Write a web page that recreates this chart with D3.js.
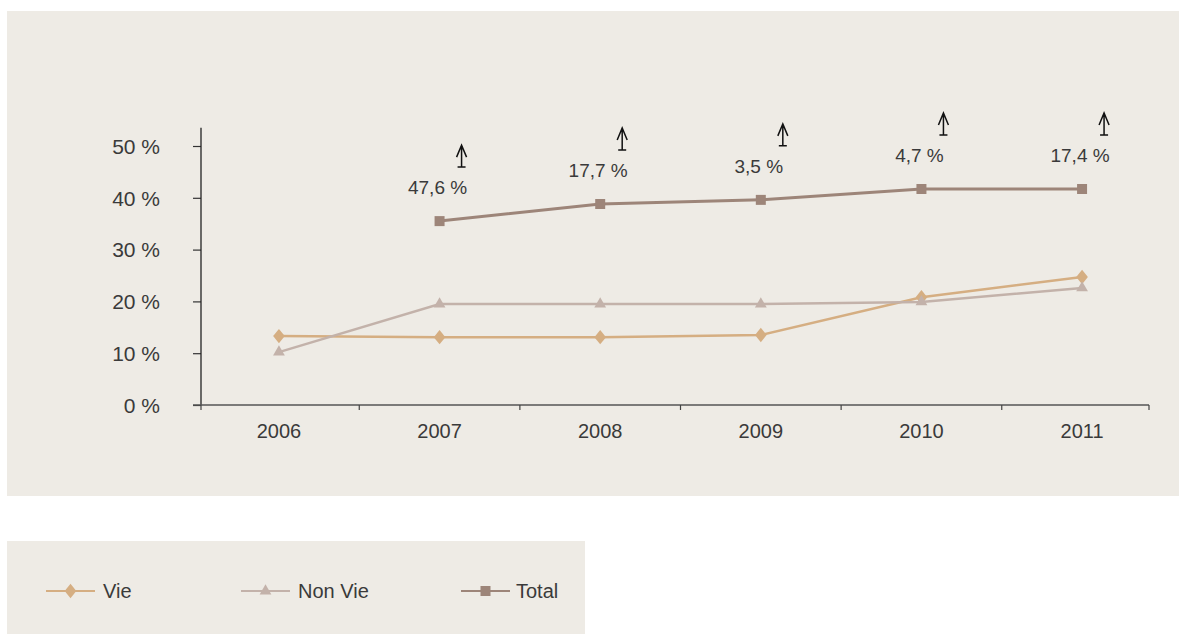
<!DOCTYPE html>
<html><head><meta charset="utf-8">
<script src="https://cdn.jsdelivr.net/npm/d3@7"></script>
<style>
html,body{margin:0;padding:0;background:#fff;}
svg text{font-family:"Liberation Sans Narrow","Liberation Sans",sans-serif;fill:#3a3a3a;}
</style></head>
<body>
<svg id="c" width="1180" height="634"></svg>
<script>
const years = ["2006","2007","2008","2009","2010","2011"];
const vie = [13.3, 13.1, 13.1, 13.5, 20.8, 24.7];
const nonVie = [10.2, 19.5, 19.5, 19.5, 19.9, 22.6];
const total = [null, 35.5, 38.8, 39.6, 41.7, 41.7];
const growthLabels = [null, "47,6 %", "17,7 %", "3,5 %", "4,7 %", "17,4 %"];
const yTicks = [0, 10, 20, 30, 40, 50];
const seriesNames = ["Vie", "Non Vie", "Total"];

const svg = d3.select("#c");
svg.append("rect").attr("x",7).attr("y",11).attr("width",1172).attr("height",485).attr("fill","#eeebe5");
svg.append("rect").attr("x",7).attr("y",541).attr("width",578).attr("height",93).attr("fill","#eeebe5");

const x = d3.scalePoint().domain(years).range([201,1149]).padding(0.451).align(0.538);
const y = d3.scaleLinear().domain([0,50]).range([405,146]);

const colors = {"Vie":"#d5ae82","Non Vie":"#c3b2aa","Total":"#9d8579"};

// axes
const yAxis = d3.axisLeft(y).tickValues(yTicks).tickSize(8).tickSizeOuter(0).tickFormat(d => d + " %");
const gy = svg.append("g").attr("transform","translate(201,0)").call(yAxis);
gy.select(".domain").remove();
gy.append("line").attr("x1",0).attr("x2",0).attr("y1",y(53.5)).attr("y2",y(0)).attr("stroke","#222").attr("stroke-width",1.3);
gy.selectAll(".tick line").attr("stroke","#333").attr("stroke-width",1.2);
gy.selectAll(".tick text").attr("x",-41).attr("font-size",21).attr("dy","0.35em").style("fill","#3a3a3a");

// x axis: boundary ticks
const step = x.step();
const bounds = [201].concat(years.slice(0,-1).map(d => x(d) + step/2)).concat([1149]);
const gx = svg.append("g");
gx.append("line").attr("x1",193).attr("x2",1149).attr("y1",y(0)).attr("y2",y(0)).attr("stroke","#555").attr("stroke-width",1.3);
gx.selectAll("line.t").data(bounds).enter().append("line").attr("class","t")
  .attr("x1",d=>d).attr("x2",d=>d).attr("y1",y(0)).attr("y2",y(0)+5).attr("stroke","#444").attr("stroke-width",1.2);
gx.selectAll("text").data(years).enter().append("text")
  .attr("x",d=>x(d)).attr("y",y(0)+33).attr("text-anchor","middle").attr("font-size",20).text(d=>d);

// lines
const series = [
  {name:"Vie", values:vie, shape:d3.symbolDiamond, size:60},
  {name:"Non Vie", values:nonVie, shape:d3.symbolTriangle, size:60},
  {name:"Total", values:total, shape:d3.symbolSquare, size:100}
];
const shapeScale = n => n==="Vie" ? " scale(1.4,1)" : "";
const line = d3.line().defined(d => d.v != null).x(d => x(d.yr)).y(d => y(d.v));
series.forEach(s => {
  const pts = years.map((yr,i) => ({yr, v:s.values[i]}));
  svg.append("path").datum(pts).attr("d",line).attr("fill","none")
    .attr("stroke",colors[s.name]).attr("stroke-width", s.name==="Total"?3:2.5);
  svg.selectAll(null).data(pts.filter(d=>d.v!=null)).enter().append("path")
    .attr("transform",d=>`translate(${x(d.yr)},${y(d.v)})` + shapeScale(s.name))
    .attr("d", d3.symbol().type(s.shape).size(s.size)).attr("fill",colors[s.name]);
});

// growth annotations
const ann = svg.append("g");
years.forEach((yr,i) => {
  if (growthLabels[i] == null) return;
  const px = x(yr), base = y(total[i]) - 27;
  ann.append("text").attr("x",px-2).attr("y",base).attr("text-anchor","middle").attr("font-size",19).text(growthLabels[i]);
  const ax = px + 22, ab = base - 27, at = ab - 22;
  ann.append("path").attr("d",`M${ax},${ab}V${at}M${ax-5},${at+12}L${ax},${at}L${ax+5},${at+12}M${ax-4},${ab}H${ax+4}`)
    .attr("fill","none").attr("stroke","#111").attr("stroke-width",1.5);
});

// legend
const legX = [46, 241, 461];
const leg = svg.append("g");
series.forEach((s,i) => {
  const lx = legX[i], ly = 591;
  leg.append("line").attr("x1",lx).attr("x2",lx+49).attr("y1",ly).attr("y2",ly).attr("stroke",colors[s.name]).attr("stroke-width",2);
  leg.append("path").attr("transform",`translate(${lx+24.5},${ly})` + shapeScale(s.name))
    .attr("d", d3.symbol().type(s.shape).size(s.size)).attr("fill",colors[s.name]);
  leg.append("text").attr("x",lx+(i===2?55:57)).attr("y",ly).attr("dy","0.35em").attr("font-size",20).text(s.name);
});
</script>
</body></html>
